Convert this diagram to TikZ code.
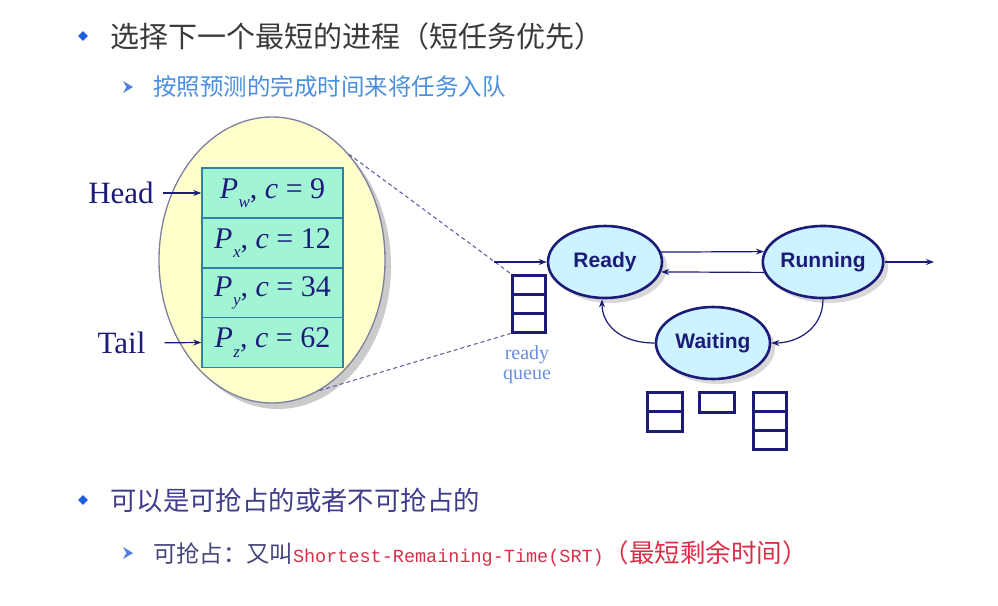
\documentclass[tikz,border=0pt]{standalone}
\usepackage{fontspec}
\setmainfont{Liberation Serif}
\newfontfamily\cjk{Noto Sans CJK SC}
\newfontfamily\lsans{Liberation Sans}
\newfontfamily\lmono{Liberation Mono}
\usetikzlibrary{shapes.geometric,arrows.meta,shadows}
\definecolor{navy}{HTML}{1C1C78}
\definecolor{titlegray}{HTML}{3A3A3A}
\definecolor{subblue}{HTML}{4A8FE0}
\definecolor{bulblue}{HTML}{1F5FD8}
\definecolor{purpnavy}{HTML}{3F3D8C}
\definecolor{subgray}{HTML}{45457A}
\definecolor{srtred}{HTML}{D8304A}
\definecolor{cellfill}{HTML}{A2F5D4}
\definecolor{celledge}{HTML}{2F7FA8}
\definecolor{yellowfill}{HTML}{FFFFCC}
\definecolor{ovaledge}{HTML}{7E7EA0}
\definecolor{dashcol}{HTML}{6262A8}
\definecolor{statefill}{HTML}{CCF3FF}
\definecolor{queueblue}{HTML}{6A8FE0}
\newcommand\pcell[2]{\textit{P}\kern0.5pt\raisebox{-0.32em}{\fontsize{17}{17}\selectfont\textit{#1}},\ \textit{c} = #2}
\begin{document}
\begin{tikzpicture}[x=1pt,y=-1pt,
  txt/.style={inner sep=0pt,anchor=west},
  cell/.style={draw=celledge,line width=1.5pt,fill=cellfill,minimum width=141pt,minimum height=50pt,inner sep=0pt,text=navy,font=\fontsize{30}{32}\selectfont},
  state/.style={ellipse,draw=navy,line width=2.6pt,fill=statefill,minimum width=114pt,minimum height=72pt,inner sep=0pt,text=navy,font=\lsans\bfseries\fontsize{21}{24}\selectfont,
    drop shadow={shadow xshift=5pt,shadow yshift=-5pt,fill=black!30,opacity=0.5}},
  qcell/.style={draw=navy,line width=3pt,inner sep=0pt},
  arr/.style={draw=navy,line width=1.2pt,-{Stealth[length=8pt,width=6pt]}},
  zoomline/.style={draw=dashcol,line width=1.1pt,dash pattern=on 4pt off 3pt},
  bullet/.style={diamond,fill=bulblue,inner sep=0pt,minimum size=10pt},
  chev/.style={fill=bulblue!80!white}
]
\useasboundingbox[fill=white] (0,0) rectangle (998,605);

% bullets and headings
\node[bullet] (d1) at (83,36) {};
\node[txt,text=titlegray] (t1) at (110,36) {\cjk\fontsize{29}{31}\selectfont 选择下一个最短的进程（短任务优先）};
\fill[chev] (123,81) -- (133,87) -- (123,93) -- (126.5,87) -- cycle;
\node[txt,text=subblue] (t2) at (153,87) {\cjk\fontsize{23.5}{26}\selectfont 按照预测的完成时间来将任务入队};

\node[bullet] (d2) at (83,500) {};
\node[txt,text=purpnavy] (t3) at (110,500) {\cjk\fontsize{26.4}{29}\selectfont 可以是可抢占的或者不可抢占的};
\fill[chev] (123,547) -- (133,553) -- (123,559) -- (126.5,553) -- cycle;
\node[txt] (t4) at (153,553) {{\cjk\color{subgray}\fontsize{23.3}{26}\selectfont 可抢占：又叫}{\lmono\color{srtred}\fontsize{18.5}{26}\selectfont Shortest-Remaining-Time(SRT)}{\cjk\color{srtred}\fontsize{25.5}{26}\selectfont （最短剩余时间）}};

% big yellow oval with queue cells
\node[ellipse,draw=ovaledge,line width=1.3pt,fill=yellowfill,minimum width=226pt,minimum height=286pt,inner sep=0pt,
  drop shadow={shadow xshift=6pt,shadow yshift=-6pt,fill=black!40,opacity=0.5}] (ell) at (272,260) {};
\node[cell] (b1) at (272.5,193) {\pcell{w}{9}};
\node[cell] (b2) at (272.5,243) {\pcell{x}{12}};
\node[cell] (b3) at (272.5,293) {\pcell{y}{34}};
\node[cell] (b4) at (272.5,342.5) {\pcell{z}{62}};

\node[inner sep=0pt,text=navy,font=\fontsize{31}{33}\selectfont] (head) at (121,193) {Head};
\node[inner sep=0pt,text=navy,font=\fontsize{31}{33}\selectfont] (tail) at (121.5,343) {Tail};
\draw[arr,shorten <=9pt] (head.east) -- (b1.west);
\draw[arr,shorten <=19pt] (tail.east) -- (b4.west);

% ready queue
\node[qcell,minimum width=33pt,minimum height=19pt] (q1) at (528.5,284.5) {};
\node[qcell,minimum width=33pt,minimum height=19pt] (q2) at (528.5,303.5) {};
\node[qcell,minimum width=33pt,minimum height=19pt] (q3) at (528.5,322.5) {};
\node[inner sep=0pt,text=queueblue,align=center,font=\fontsize{20}{20}\selectfont] (qlab) at (527,365) {ready\\queue};

% zoom lines
\draw[zoomline] (ell.54) -- (q1.north west);
\draw[zoomline] (ell.-70) -- (q3.south west);

% states
\node[state] (ready) at (605,262) {Ready};
\node[state] (run) at (823,262) {Running};
\node[state] (wait) at (713,343) {Waiting};

\coordinate (inp) at (494,262);
\coordinate (outp) at (934,262);
\draw[arr] (inp) -- (ready.west);
\draw[arr] (ready.10) -- (run.170);
\draw[arr] (run.190) -- (ready.-10);
\draw[arr] (run.east) -- (outp);
\draw[arr] (run.south) .. controls +(0,30) and +(25,0) .. (wait.east);
\draw[arr] (wait.west) .. controls +(-35,0) and +(0,25) .. ([xshift=-3pt]ready.south);

% waiting queues
\node[qcell,minimum width=35pt,minimum height=19.5pt] (w1) at (664.5,401.75) {};
\node[qcell,minimum width=35pt,minimum height=19.5pt] (w2) at (664.5,421.25) {};
\node[qcell,minimum width=35pt,minimum height=20pt] (w3) at (716.5,402) {};
\node[qcell,minimum width=33pt,minimum height=19pt] (w4) at (769.5,401.5) {};
\node[qcell,minimum width=33pt,minimum height=19pt] (w5) at (769.5,420.5) {};
\node[qcell,minimum width=33pt,minimum height=19pt] (w6) at (769.5,439.5) {};
\end{tikzpicture}
\end{document}
